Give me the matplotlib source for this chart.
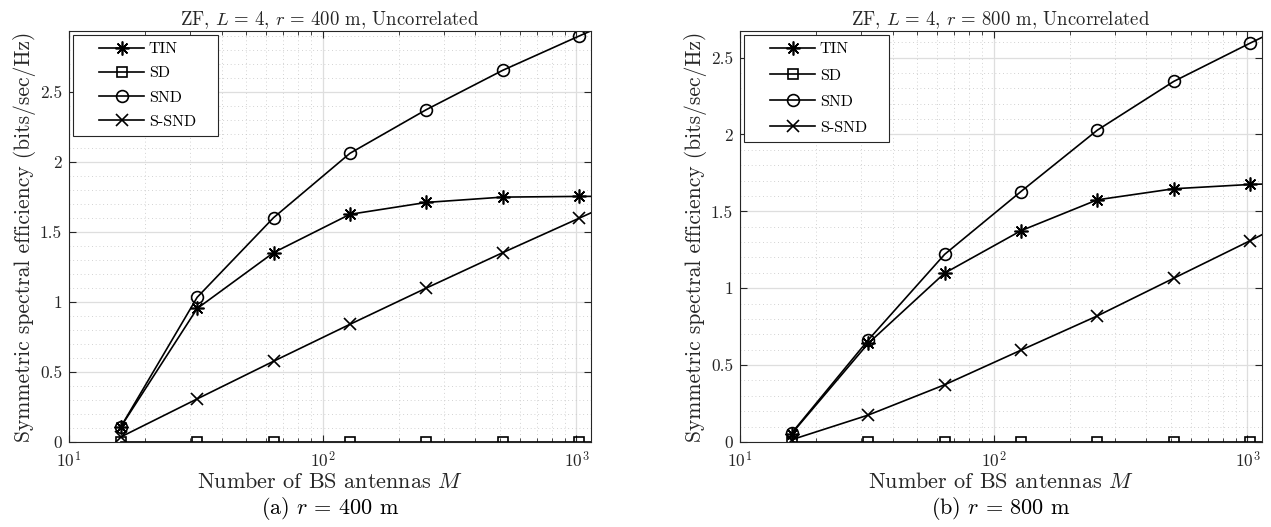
import numpy as np
import matplotlib.pyplot as plt
from matplotlib.ticker import LogLocator, MultipleLocator, FuncFormatter, NullFormatter
from matplotlib.legend_handler import HandlerLine2D

plt.rcParams['font.family'] = 'serif'
plt.rcParams['font.serif'] = ['cmr10']
plt.rcParams['mathtext.fontset'] = 'cm'
plt.rcParams['axes.formatter.use_mathtext'] = True

# number of BS antennas (last point lies past the right edge of the axes)
M = [16, 32, 64, 128, 256, 512, 1024, 2048]

# r = 400 m
tin_400 = [0.108, 0.954, 1.353, 1.627, 1.712, 1.750, 1.755, 1.757]
sd_400 = [0, 0, 0, 0, 0, 0, 0, 0]
snd_400 = [0.108, 1.034, 1.603, 2.063, 2.375, 2.656, 2.901, 3.140]
ssnd_400 = [0.036, 0.308, 0.577, 0.841, 1.100, 1.353, 1.599, 1.846]

# r = 800 m
tin_800 = [0.055, 0.641, 1.098, 1.374, 1.575, 1.647, 1.675, 1.690]
sd_800 = [0, 0, 0, 0, 0, 0, 0, 0]
snd_800 = [0.059, 0.663, 1.220, 1.629, 2.028, 2.345, 2.594, 2.835]
ssnd_800 = [0.015, 0.175, 0.372, 0.597, 0.820, 1.065, 1.309, 1.560]

labels = ['TIN', 'SD', 'SND', 'S-SND']
markers = [(8, 2, 0), 's', 'o', 'x']
msizes = [10, 7.5, 8.5, 9]


class PaddedLine(HandlerLine2D):
    # legend sample line starts a bit in from the frame, as in MATLAB
    def create_artists(self, legend, orig_handle, xdescent, ydescent,
                       width, height, fontsize, trans):
        pad = 0.3 * width
        return super().create_artists(legend, orig_handle, xdescent - pad, ydescent,
                                      width - pad, height, fontsize, trans)


panels = [
    ('ZF, $L\\,=\\,4$, $r\\,=\\,400$ m, Uncorrelated', '(a) $r\\,=\\,400$ m', 2.937,
     [tin_400, sd_400, snd_400, ssnd_400], 0.62),
    ('ZF, $L\\,=\\,4$, $r\\,=\\,800$ m, Uncorrelated', '(b) $r\\,=\\,800$ m', 2.673,
     [tin_800, sd_800, snd_800, ssnd_800], 0.75),
]

W, H = 1271, 527
fig = plt.figure(figsize=(W / 100, H / 100), dpi=100)
lefts = [69, 740]
axw, axh = 522, 411
bottom = H - 442

for (title, caption, ytop, series, lspace), left in zip(panels, lefts):
    ax = fig.add_axes([left / W, bottom / H, axw / W, axh / H])
    for y, lab, mk, ms in zip(series, labels, markers, msizes):
        ax.plot(M, y, color='black', lw=1.2, marker=mk, ms=ms,
                mfc='none', mec='black', mew=1.2, label=lab)
    ax.set_xscale('log')
    ax.set_xlim(10, 1141)
    ax.set_ylim(0, ytop)
    ax.xaxis.set_major_locator(LogLocator(base=10, numticks=10))
    ax.xaxis.set_minor_locator(LogLocator(base=10, subs=np.arange(2, 10), numticks=10))
    ax.xaxis.set_minor_formatter(NullFormatter())
    ax.yaxis.set_major_locator(MultipleLocator(0.5))
    ax.yaxis.set_minor_locator(MultipleLocator(0.1))
    ax.yaxis.set_major_formatter(FuncFormatter(lambda v, p: '%g' % v))
    ax.set_axisbelow(True)
    ax.grid(which='major', color='#dedede', lw=0.9, ls='-')
    ax.grid(which='minor', color='#c4c4c4', lw=0.6, ls=(0, (1, 3.5)))
    ax.tick_params(which='both', direction='in', top=True, right=True,
                   colors='#262626', labelsize=12.5)
    ax.tick_params(which='major', length=5, width=0.8)
    ax.tick_params(axis='x', which='major', pad=6)
    ax.tick_params(axis='y', which='major', pad=5)
    ax.tick_params(axis='x', which='minor', length=3, width=0.6)
    ax.tick_params(axis='y', which='minor', length=0)
    for s in ax.spines.values():
        s.set_color('#262626')
        s.set_linewidth(0.8)
    ax.set_title(title, fontsize=13.5, color='#262626', pad=4)
    ax.set_xlabel('Number of BS antennas $M$', fontsize=16, color='#262626', labelpad=1)
    ax.set_ylabel('Symmetric spectral efficiency (bits/sec/Hz)', fontsize=15.5,
                  color='#262626', labelpad=3)
    leg = ax.legend(loc='upper left', fontsize=11.5, handlelength=4.0, fancybox=False,
                    edgecolor='#262626', framealpha=1, borderpad=0.45,
                    labelspacing=lspace, handletextpad=0.3, borderaxespad=0,
                    bbox_to_anchor=(4 / axw, 1 - 4 / axh, 145 / axw, 0), mode='expand',
                    handler_map={plt.Line2D: PaddedLine()})
    leg.get_frame().set_linewidth(0.8)
    fig.text((left + axw / 2) / W, 1 - 509 / H, caption, fontsize=16,
             ha='center', va='center')

fig.savefig('out.png', dpi=100)
